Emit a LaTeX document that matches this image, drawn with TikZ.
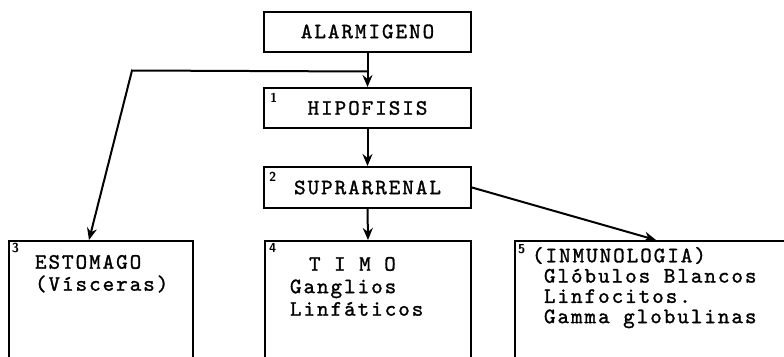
\documentclass[tikz,border=0pt]{standalone}
\usepackage{fontspec}
\usetikzlibrary{arrows.meta}

\newfontfamily\typefam{lmmono10-regular.otf}[LetterSpace=9, FakeBold=1.3]
\newcommand{\typew}[1][22]{\fontsize{22}{#1}\typefam}
\newcommand{\tagfont}{\fontsize{13}{13}\sffamily\bfseries}

\begin{document}
\begin{tikzpicture}[x=1pt, y=1pt, >={Stealth[length=12pt, width=10pt]}, line width=2pt,
	organ/.style={draw, rectangle, minimum width=207pt, minimum height=40pt, inner sep=0pt, font=\typew},
	openbox/.style={draw, rectangle, minimum height=160pt, anchor=north west, inner sep=0pt},
	tag/.style={inner sep=0pt, anchor=north west, font=\tagfont},
	body/.style={inner sep=0pt, anchor=north west, align=left}]
	\useasboundingbox (0,0) rectangle (784,-356);
	\clip (0,0) rectangle (784,-356);

	% eje central
	\node[organ]	(alarm)	at (367.5, -31.5)	{ALARMIGENO};
	\node[organ]	(hipo)	at (367.5, -108)	{HIPOFISIS};
	\node[organ, minimum height=41pt]	(supra)	at (367.5, -187.5)	{SUPRARRENAL};

	% cajas de abajo
	\node[openbox, minimum width=184pt]	(estomago)	at (8, -240)	{};
	\node[openbox, minimum width=206pt]	(timo)		at (264, -240)	{};
	\node[openbox, minimum width=282pt]	(inmuno)	at (514, -240)	{};

	\node[tag]	(t1)	at (269, -92)	{1};
	\node[tag]	(t2)	at (268, -171)	{2};
	\node[tag]	(t3)	at (11, -242)	{3};
	\node[tag]	(t4)	at (268, -242)	{4};
	\node[tag]	(t5)	at (517, -243)	{5};

	\node[body, font={\typew[22]}]	(estomagotxt)	at (34, -254)	{ESTOMAGO\\(Vísceras)};
	\node[body, font={\typew[22.5]}]	(timotxt)	at (289, -256)	{\hspace*{19pt}T I M O\\Ganglios\\Linfáticos};
	\node[body, font={\typew[20.3]}]	(inmunotxt)	at (531, -246)	{(INMUNOLOGIA)\\\hspace*{12pt}Glóbulos Blancos\\\hspace*{12pt}Linfocitos.\\\hspace*{12pt}Gamma globulinas};

	\coordinate (split) at ([yshift=-19pt]alarm.south);
	\coordinate (bend) at (132, -70.5);

	\draw[->] (alarm.south) -- (hipo.north);
	\draw[->] (split) -- (bend) -- ([xshift=-12pt]estomago.north);
	\draw[->] (hipo.south) -- (supra.north);
	\draw[->] (supra.south) -- (timo.north);
	\draw[->] (supra.east) -- (inmuno.north);
\end{tikzpicture}
\end{document}
